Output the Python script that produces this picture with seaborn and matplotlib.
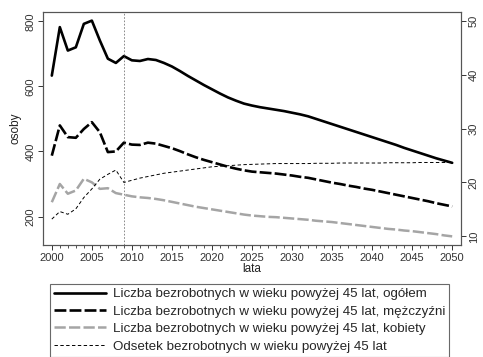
import numpy as np
import pandas as pd
import matplotlib
matplotlib.use("Agg")
import matplotlib.pyplot as plt
import seaborn as sns

# dane
lata = list(range(2000, 2051))

ogolem = [633, 782, 710, 720, 792, 802, 741, 685, 672, 693,
          680, 678, 684, 681, 672, 661, 647, 632, 618, 604,
          591, 578, 566, 556, 547, 541, 536, 532, 528, 524,
          519, 514, 508, 500, 492, 484, 476, 468, 460, 452,
          444, 436, 428, 420, 411, 403, 395, 387, 379, 372,
          365]

mezczyzni = [387, 480, 444, 442, 469, 490, 459, 398, 400, 427,
             421, 420, 427, 424, 417, 410, 401, 391, 382, 374,
             367, 360, 353, 347, 342, 338, 336, 334, 332, 329,
             326, 322, 319, 314, 309, 304, 300, 295, 291, 286,
             282, 277, 272, 267, 262, 257, 252, 247, 241, 236,
             231]

kobiety = [244, 300, 270, 280, 316, 305, 285, 287, 272, 267,
           262, 259, 257, 254, 250, 245, 240, 235, 230, 226,
           222, 218, 214, 210, 206, 203, 201, 199, 198, 196,
           194, 192, 190, 187, 185, 183, 180, 177, 174, 171,
           168, 165, 162, 160, 157, 155, 152, 149, 146, 142,
           139]

odsetek = [13.2, 14.6, 14.1, 15.1, 17.2, 18.8, 20.6, 21.5, 22.3, 20.0,
           20.4, 20.8, 21.1, 21.4, 21.7, 21.9, 22.1, 22.3, 22.5, 22.7,
           22.9, 23.0, 23.1, 23.2, 23.3, 23.35, 23.4, 23.45, 23.5, 23.5,
           23.5, 23.5, 23.5, 23.55, 23.55, 23.55, 23.6, 23.6, 23.6, 23.6,
           23.6, 23.6, 23.65, 23.65, 23.65, 23.65, 23.7, 23.7, 23.7, 23.7,
           23.7]

etykiety = [
    "Liczba bezrobotnych w wieku powyżej 45 lat, ogółem",
    "Liczba bezrobotnych w wieku powyżej 45 lat, mężczyźni",
    "Liczba bezrobotnych w wieku powyżej 45 lat, kobiety",
    "Odsetek bezrobotnych w wieku powyżej 45 lat",
]

rok_graniczny = 2009

sns.set_theme(style="ticks")
plt.rcParams['font.family'] = ['Liberation Sans', 'DejaVu Sans']

df = pd.DataFrame({'lata': lata, 'ogolem': ogolem, 'mezczyzni': mezczyzni,
                   'kobiety': kobiety, 'odsetek': odsetek})

fig = plt.figure(figsize=(4.83, 3.57), dpi=100)
ax = fig.add_axes([43 / 483, 1 - 245 / 357, (461 - 43) / 483, (245 - 12) / 357])
ax2 = ax.twinx()

sns.lineplot(data=df, x='lata', y='ogolem', ax=ax, color='black', lw=1.9)
sns.lineplot(data=df, x='lata', y='mezczyzni', ax=ax, color='black', lw=1.9,
             linestyle=(0, (4.5, 1.2)))
sns.lineplot(data=df, x='lata', y='kobiety', ax=ax, color='#a5a5a5', lw=1.8,
             linestyle=(0, (4.5, 1.3)))
sns.lineplot(data=df, x='lata', y='odsetek', ax=ax2, color='black', lw=0.7,
             linestyle=(0, (3.5, 2.5)))

ax.axvline(rok_graniczny, color='#777777', lw=0.6, linestyle=(0, (2, 2)))

ax.set_xlim(1998.9, 2051.1)
ax.set_ylim(112.5, 828.5)
ax2.set_ylim(8.4, 51.6)

ax.set_xticks(range(2000, 2051, 5))
ax.set_xticks(range(2000, 2051), minor=True)
ax.set_yticks([200, 400, 600, 800])
ax2.set_yticks([10, 20, 30, 40, 50])

ax.set_xlabel('lata', fontsize=8.5, labelpad=0, color='#222222')
ax.set_ylabel('osoby', fontsize=8.5, labelpad=3, color='#222222')
ax2.set_ylabel('')

ax.tick_params(axis='both', which='major', labelsize=8, length=3.5, width=0.7,
               colors='#333333', pad=2)
ax.tick_params(axis='x', which='minor', length=2, width=0.6, colors='#333333')
ax.tick_params(axis='y', which='minor', length=0)
ax2.tick_params(axis='y', labelsize=8, length=3.5, width=0.7, colors='#333333', pad=2)
for lab in ax.get_yticklabels():
    lab.set_rotation(90)
    lab.set_va('center')
for lab in ax2.get_yticklabels():
    lab.set_rotation(90)
    lab.set_va('center')

for a in (ax, ax2):
    for sp in a.spines.values():
        sp.set_color('#555555')
        sp.set_linewidth(0.8)

uchwyty = ax.get_lines()[:3] + ax2.get_lines()[:1]
leg = fig.legend(uchwyty, etykiety, loc='upper left',
                 bbox_to_anchor=(50 / 483, 1 - 284 / 357),
                 fontsize=9.6, frameon=True, fancybox=False,
                 handlelength=3.9, handletextpad=0.5, labelspacing=0.38,
                 borderpad=0.3, borderaxespad=0)
leg.get_frame().set_edgecolor('#444444')
leg.get_frame().set_linewidth(0.8)

fig.savefig('out.png', dpi=100)
